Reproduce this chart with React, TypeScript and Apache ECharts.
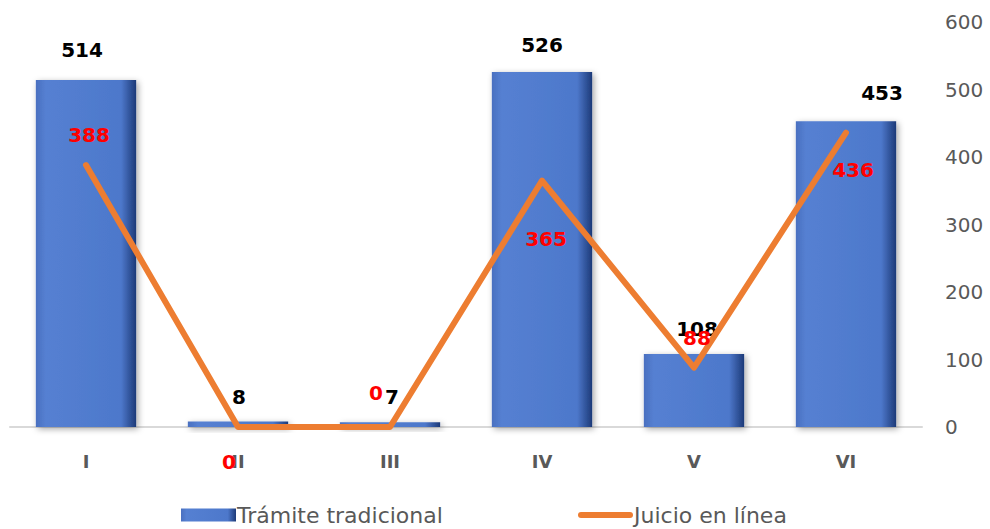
import React, { useEffect, useRef } from "react";
import * as echarts from "echarts";

const categories = ["I", "II", "III", "IV", "V", "VI"];
const tramiteTradicional = [514, 8, 7, 526, 108, 453];
const juicioEnLinea = [388, 0, 0, 365, 88, 436];
const yTicks = { min: 0, max: 600, interval: 100 };

// label placements (offsets from the mark), kept apart from the values
const barLabelOffsets = [[-4, -30], [1, -25], [2, -25], [0, -27], [3, -25], [36, -28]];
const lineLabelOffsets = [[3, -30], [-9, 35], [-14, -34], [4, 59], [3, -29], [7, 38]];

export default function App() {
  const ref = useRef<HTMLDivElement>(null);
  useEffect(() => {
    if (!ref.current) return;
    const chart = echarts.init(ref.current, null, { renderer: "svg" });
    const barColor = new echarts.graphic.LinearGradient(0, 0, 1, 0, [
      { offset: 0, color: "#4a70c0" },
      { offset: 0.1, color: "#5580d2" },
      { offset: 0.85, color: "#4d78cb" },
      { offset: 1, color: "#1d3a78" },
    ]);
    const legendText = { fontFamily: "DejaVu Sans", fontSize: 22, color: "#595959", padding: [0, 0, 0, -4] };
    chart.setOption({
      animation: false,
      grid: { left: 10, right: 68, top: 22, bottom: 102, containLabel: false },
      legend: [
        {
          left: 176,
          top: 499,
          itemWidth: 55,
          itemHeight: 13,
          textStyle: legendText,
          data: [{ name: "Trámite tradicional", icon: "rect" }],
        },
        {
          left: 573,
          top: 499,
          itemWidth: 55,
          itemHeight: 13,
          textStyle: legendText,
          data: [
            {
              name: "Juicio en línea",
              icon: "path://M3,0 H52 A3,3 0 0 1 52,6 H3 A3,3 0 0 1 3,0 Z",
            },
          ],
        },
      ],
      xAxis: {
        type: "category",
        data: categories,
        axisLine: { lineStyle: { color: "#d9d9d9", width: 2 } },
        axisTick: { show: false },
        axisLabel: { fontFamily: "DejaVu Sans", fontWeight: "bold", fontSize: 18, color: "#595959", margin: 25 },
      },
      yAxis: {
        type: "value",
        position: "right",
        min: yTicks.min,
        max: yTicks.max,
        interval: yTicks.interval,
        splitLine: { show: false },
        axisLine: { show: false },
        axisTick: { show: false },
        axisLabel: { fontFamily: "DejaVu Sans", fontSize: 20, color: "#595959", margin: 23, align: "left" },
      },
      series: [
        {
          name: "Trámite tradicional",
          type: "bar",
          barWidth: "66%",
          itemStyle: {
            color: barColor,
            shadowBlur: 6,
            shadowColor: "rgba(0,0,0,0.35)",
            shadowOffsetX: 2,
            shadowOffsetY: 2,
          },
          data: tramiteTradicional.map((v, i) => ({
            value: v,
            label: { offset: barLabelOffsets[i] },
          })),
          label: {
            show: true,
            position: "top",
            distance: 0,
            verticalAlign: "middle",
            fontFamily: "DejaVu Sans",
            fontWeight: "bold",
            fontSize: 20,
            color: "#000000",
          },
        },
        {
          name: "Juicio en línea",
          type: "line",
          symbol: "circle",
          symbolSize: 1,
          showSymbol: true,
          lineStyle: { color: "#ED7D31", width: 6, cap: "round", join: "round" },
          itemStyle: { color: "#ED7D31" },
          data: juicioEnLinea.map((v, i) => ({
            value: v,
            label: { offset: lineLabelOffsets[i] },
          })),
          label: {
            show: true,
            position: "top",
            distance: 0,
            verticalAlign: "middle",
            fontFamily: "DejaVu Sans",
            fontWeight: "bold",
            fontSize: 20,
            color: "#ff0000",
          },
          z: 5,
        },
      ],
    });
    return () => chart.dispose();
  }, []);
  return <div ref={ref} style={{ width: 990, height: 529, position: "absolute", left: 0, top: 0 }} />;
}
